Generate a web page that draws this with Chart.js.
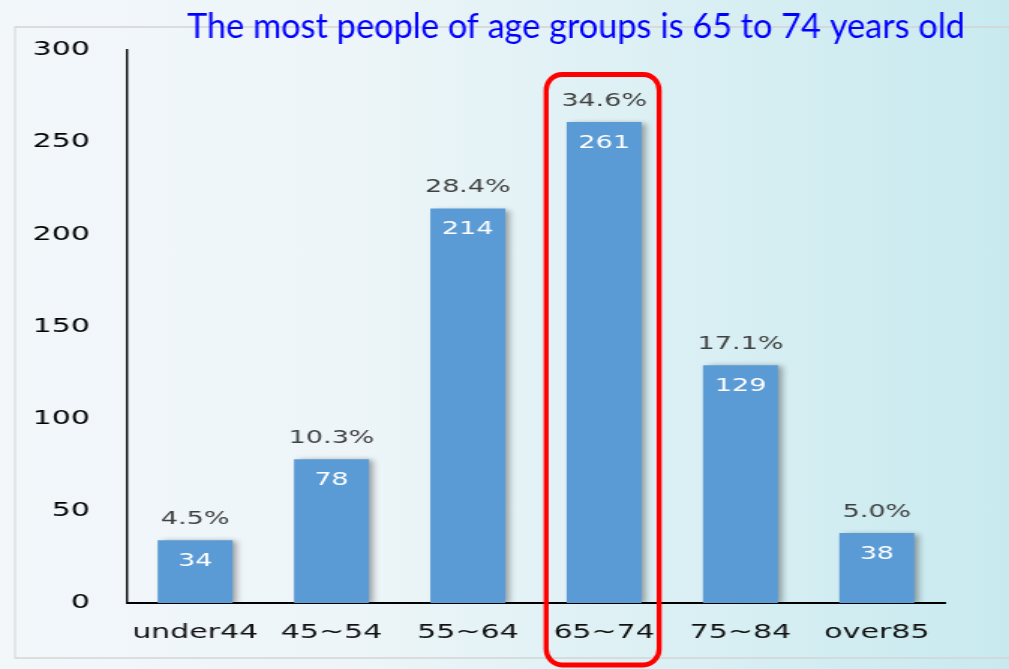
<!DOCTYPE html>
<html>
<head>
<meta charset="utf-8">
<script src="https://cdn.jsdelivr.net/npm/chart.js@4.4.1/dist/chart.umd.min.js"></script>
<style>
  html, body { margin: 0; padding: 0; }
  body {
    width: 1009px; height: 669px; overflow: hidden;
    background: linear-gradient(to right, #f2f7fa 0%, #edf5f8 35%, #dcf0f4 65%, #c8eaef 100%);
  }
  #wrap {
    position: absolute; left: 0; top: 0;
    width: 673px; height: 669px;
    transform-origin: 0 0;
    transform: scaleX(1.49926);
  }
</style>
</head>
<body>
<div id="wrap"><canvas id="chart" width="673" height="669"></canvas></div>
<script>
    // the chart picture in the slide is stretched sideways, so draw narrow and scale
    var S = 1009 / 673;

    var titleText = "The most people of age groups is 65 to 74 years old";
    var ageGroups = ["under44", "45~54", "55~64", "65~74", "75~84", "over85"];
    var people = [34, 78, 214, 261, 129, 38];
    var percentLabels = ["4.5%", "10.3%", "28.4%", "34.6%", "17.1%", "5.0%"];
    var yTicks = [0, 50, 100, 150, 200, 250, 300];
    var highlightIndex = 3;

    Chart.defaults.font.family = "'DejaVu Sans', Verdana, sans-serif";

    var decor = {
        id: "decor",
        beforeDraw: function (chart) {
            var ctx = chart.ctx;
            ctx.save();
            ctx.scale(1 / S, 1);
            ctx.strokeStyle = "#d4d4d4";
            ctx.lineWidth = 1.5;
            ctx.strokeRect(15, 27, 1009, 631);
            ctx.restore();
        },
        beforeDatasetsDraw: function (chart) {
            var ctx = chart.ctx;
            ctx.save();
            ctx.shadowColor = "rgba(0,0,0,0.38)";
            ctx.shadowBlur = 5;
            ctx.shadowOffsetX = 3;
            ctx.shadowOffsetY = 1;
        },
        afterDatasetsDraw: function (chart) {
            var ctx = chart.ctx;
            ctx.restore();
            var meta = chart.getDatasetMeta(0);

            // value inside bar, percentage above it
            ctx.save();
            ctx.textAlign = "center";
            ctx.textBaseline = "middle";
            ctx.font = "18px 'DejaVu Sans'";
            for (var i = 0; i < meta.data.length; i++) {
                var bar = meta.data[i];
                ctx.fillStyle = "#ffffff";
                ctx.fillText(String(people[i]), bar.x, bar.y + 21);
                ctx.fillStyle = "#404040";
                ctx.fillText(percentLabels[i], bar.x, bar.y - 21);
            }
            ctx.restore();

            // red frame round the biggest group, and the title (not stretched)
            var hb = meta.data[highlightIndex];
            ctx.save();
            ctx.scale(1 / S, 1);
            var X = hb.x * S;
            ctx.strokeStyle = "#ff0000";
            ctx.lineWidth = 5;
            ctx.beginPath();
            ctx.roundRect(X - 58, hb.y - 47.5, 113, 665 - (hb.y - 47.5), 16);
            ctx.stroke();

            ctx.font = "34px Lato";
            ctx.fillStyle = "#0000ff";
            ctx.textBaseline = "alphabetic";
            var w = ctx.measureText(titleText).width;
            ctx.translate(187, 38);
            ctx.scale(778 / w, 1);
            ctx.fillText(titleText, 0, 0);
            ctx.restore();
        }
    };

    new Chart(document.getElementById("chart"), {
        type: "bar",
        data: {
            labels: ageGroups,
            datasets: [{
                data: people,
                backgroundColor: "#5b9bd5",
                borderWidth: 0,
                categoryPercentage: 1,
                barPercentage: 0.55
            }]
        },
        options: {
            responsive: false,
            animation: false,
            layout: { padding: { left: 0, right: 42.7, top: 50, bottom: 0 } },
            plugins: {
                legend: { display: false },
                tooltip: { enabled: false }
            },
            scales: {
                x: {
                    grid: { display: false, drawTicks: false },
                    border: { display: true, color: "#000", width: 2 },
                    ticks: { color: "#111", font: { size: 20 }, padding: 18, maxRotation: 0 },
                    afterFit: function (scale) { scale.height = 66; }
                },
                y: {
                    min: yTicks[0],
                    max: yTicks[yTicks.length - 1],
                    grid: { display: false, drawTicks: false },
                    border: { display: true, color: "#000", width: 1.4 },
                    ticks: { color: "#000", font: { size: 20 }, stepSize: yTicks[1] - yTicks[0], padding: 24.7 },
                    afterFit: function (scale) { scale.width = 84.7; }
                }
            }
        },
        plugins: [decor]
    });
</script>
</body>
</html>
